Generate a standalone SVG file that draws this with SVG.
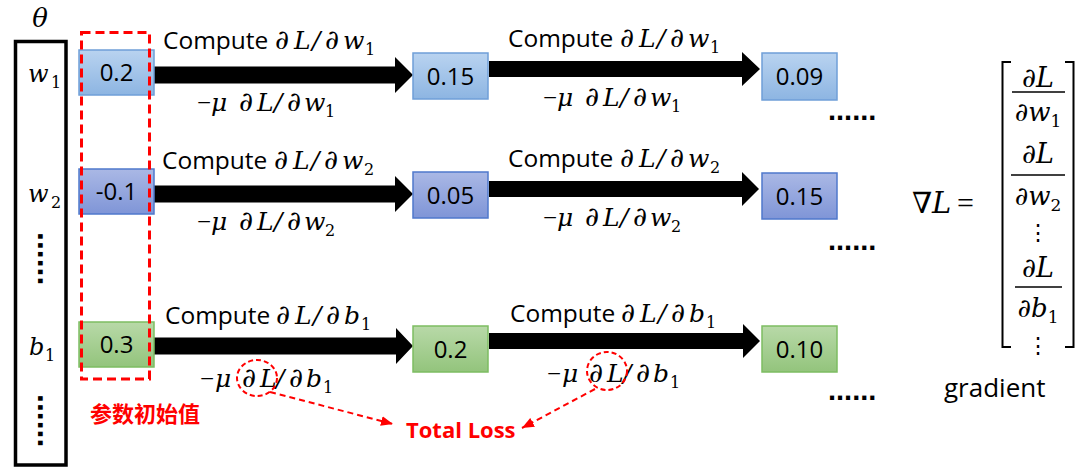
<svg xmlns="http://www.w3.org/2000/svg" width="1080" height="473" viewBox="0 0 1080 473">
<defs>
<linearGradient id="gW1" x1="0" y1="0" x2="0" y2="1"><stop offset="0" stop-color="#b9d3f0"/><stop offset="1" stop-color="#8db5e2"/></linearGradient>
<linearGradient id="gW2" x1="0" y1="0" x2="0" y2="1"><stop offset="0" stop-color="#aab8e5"/><stop offset="1" stop-color="#7f95d7"/></linearGradient>
<linearGradient id="gB1" x1="0" y1="0" x2="0" y2="1"><stop offset="0" stop-color="#b8d9a8"/><stop offset="1" stop-color="#93c47c"/></linearGradient>
<marker id="rh" viewBox="0 0 12 10" refX="12" refY="5" markerWidth="12" markerHeight="10" markerUnits="userSpaceOnUse" orient="auto"><path d="M0,0 L12,5 L0,10 Z" fill="#ff0000"/></marker>
</defs>
<style>
.w1 rect{fill:url(#gW1);stroke:#6f9fd8;stroke-width:1.5}
.w2 rect{fill:url(#gW2);stroke:#4f78cc;stroke-width:1.5}
.b1 rect{fill:url(#gB1);stroke:#7dbd62;stroke-width:1.5}
.node text{font-family:"Open Sans",sans-serif;font-size:24px;text-anchor:middle;fill:#000}
.lbl{font-family:"Open Sans",sans-serif;font-size:24.5px;fill:#000}
.m{font-family:"DejaVu Serif",serif;font-style:italic;font-size:25px}
.d{font-family:"DejaVu Serif",serif;font-style:italic;font-size:27px}
.s{font-family:"DejaVu Serif",serif;font-style:normal;font-size:16px}
.mn{font-family:"Liberation Serif",serif;font-style:normal;font-size:25px}
.arr{fill:#000}
.red{fill:#ff0000}
.rd{fill:none;stroke:#ff0000;stroke-width:2;stroke-dasharray:5 3}
.dots{font-family:"Liberation Sans",sans-serif;font-weight:bold;font-size:29px;fill:#000}
.vdots{font-family:"Liberation Sans",sans-serif;font-weight:bold;font-size:32px;fill:#000}
</style>
<rect width="1080" height="473" fill="#ffffff"/>

<g id="theta">
<text x="40" y="27" class="m" style="font-size:26px" text-anchor="middle">θ</text>
<rect x="15.5" y="41.5" width="50.5" height="423.5" fill="none" stroke="#000" stroke-width="3.5"/>
<text class="m" style="font-size:24px" y="82"><tspan x="28">w</tspan><tspan class="s" x="51" dy="6">1</tspan></text>
<text class="m" style="font-size:24px" y="202"><tspan x="28">w</tspan><tspan class="s" x="51" dy="6">2</tspan></text>
<text class="m" style="font-size:24px" y="355"><tspan x="29">b</tspan><tspan class="s" x="45" dy="6">1</tspan></text>
<text class="vdots" transform="translate(38,232) rotate(90)">......</text>
<text class="vdots" transform="translate(38,394) rotate(90)">......</text>
</g>

<g id="connectors">
<polygon class="arr" points="154,66.5 395,66.5 395,57 413,75 395,93 395,83.5 154,83.5"/>
<polygon class="arr" points="489,61 742,61 742,52 760,69 742,86 742,77 489,77"/>
<polygon class="arr" points="154,185.5 395,185.5 395,176 413,194 395,212 395,202.5 154,202.5"/>
<polygon class="arr" points="489,181 742,181 742,172 759,189 742,206 742,197 489,197"/>
<polygon class="arr" points="154,337.5 396,337.5 396,328 413,346 396,364 396,354.5 154,354.5"/>
<polygon class="arr" points="489,333 743,333 743,324 760,341 743,358 743,349 489,349"/>
<line class="rd" x1="270" y1="392" x2="393" y2="424" marker-end="url(#rh)" style="stroke-dasharray:6 4"/>
<line class="rd" x1="595" y1="389" x2="522" y2="428" marker-end="url(#rh)" style="stroke-dasharray:6 4"/>
</g>

<g id="labels-upper">
<text class="lbl" transform="translate(163,49)"><tspan x="0">Compute</tspan><tspan class="d" x="112">∂</tspan><tspan class="m" x="131">L</tspan><tspan class="m" x="149">/</tspan><tspan class="d" x="162">∂</tspan><tspan class="m" x="180">w</tspan><tspan class="s" x="202" dy="6">1</tspan></text>
<text class="lbl" transform="translate(508,47)"><tspan x="0">Compute</tspan><tspan class="d" x="112">∂</tspan><tspan class="m" x="131">L</tspan><tspan class="m" x="149">/</tspan><tspan class="d" x="162">∂</tspan><tspan class="m" x="180">w</tspan><tspan class="s" x="202" dy="6">1</tspan></text>
<text class="lbl" transform="translate(162,169)"><tspan x="0">Compute</tspan><tspan class="d" x="112">∂</tspan><tspan class="m" x="131">L</tspan><tspan class="m" x="149">/</tspan><tspan class="d" x="162">∂</tspan><tspan class="m" x="180">w</tspan><tspan class="s" x="202" dy="6">2</tspan></text>
<text class="lbl" transform="translate(508,167)"><tspan x="0">Compute</tspan><tspan class="d" x="112">∂</tspan><tspan class="m" x="131">L</tspan><tspan class="m" x="149">/</tspan><tspan class="d" x="162">∂</tspan><tspan class="m" x="180">w</tspan><tspan class="s" x="202" dy="6">2</tspan></text>
<text class="lbl" transform="translate(165,324)"><tspan x="0">Compute</tspan><tspan class="d" x="111">∂</tspan><tspan class="m" x="130">L</tspan><tspan class="m" x="148">/</tspan><tspan class="d" x="161">∂</tspan><tspan class="m" x="179">b</tspan><tspan class="s" x="196" dy="6">1</tspan></text>
<text class="lbl" transform="translate(510,322)"><tspan x="0">Compute</tspan><tspan class="d" x="111">∂</tspan><tspan class="m" x="130">L</tspan><tspan class="m" x="148">/</tspan><tspan class="d" x="161">∂</tspan><tspan class="m" x="179">b</tspan><tspan class="s" x="196" dy="6">1</tspan></text>
</g>

<g id="labels-lower">
<text class="lbl" transform="translate(197,111)"><tspan class="mn" x="0">−</tspan><tspan class="m" x="14">μ</tspan><tspan class="d" x="42">∂</tspan><tspan class="m" x="60">L</tspan><tspan class="m" x="77">/</tspan><tspan class="d" x="90">∂</tspan><tspan class="m" x="107">w</tspan><tspan class="s" x="128" dy="6">1</tspan></text>
<text class="lbl" transform="translate(543,106)"><tspan class="mn" x="0">−</tspan><tspan class="m" x="14">μ</tspan><tspan class="d" x="42">∂</tspan><tspan class="m" x="60">L</tspan><tspan class="m" x="77">/</tspan><tspan class="d" x="90">∂</tspan><tspan class="m" x="107">w</tspan><tspan class="s" x="128" dy="6">1</tspan></text>
<text class="lbl" transform="translate(197,230)"><tspan class="mn" x="0">−</tspan><tspan class="m" x="14">μ</tspan><tspan class="d" x="42">∂</tspan><tspan class="m" x="60">L</tspan><tspan class="m" x="77">/</tspan><tspan class="d" x="90">∂</tspan><tspan class="m" x="107">w</tspan><tspan class="s" x="128" dy="6">2</tspan></text>
<text class="lbl" transform="translate(543,226)"><tspan class="mn" x="0">−</tspan><tspan class="m" x="14">μ</tspan><tspan class="d" x="42">∂</tspan><tspan class="m" x="60">L</tspan><tspan class="m" x="77">/</tspan><tspan class="d" x="90">∂</tspan><tspan class="m" x="107">w</tspan><tspan class="s" x="128" dy="6">2</tspan></text>
<text class="lbl" transform="translate(200,387)"><tspan class="mn" x="0">−</tspan><tspan class="m" x="15">μ</tspan><tspan class="d" x="42">∂</tspan><tspan class="m" x="60">L</tspan><tspan class="m" x="76">/</tspan><tspan class="d" x="89">∂</tspan><tspan class="m" x="106">b</tspan><tspan class="s" x="123" dy="6">1</tspan></text>
<text class="lbl" transform="translate(547,382)"><tspan class="mn" x="0">−</tspan><tspan class="m" x="15">μ</tspan><tspan class="d" x="42">∂</tspan><tspan class="m" x="60">L</tspan><tspan class="m" x="76">/</tspan><tspan class="d" x="89">∂</tspan><tspan class="m" x="106">b</tspan><tspan class="s" x="123" dy="6">1</tspan></text>
</g>

<g id="n-w1-0" class="node w1"><rect x="79" y="50" width="75" height="45"/><text x="116.5" y="81">0.2</text></g>
<g id="n-w2-0" class="node w2"><rect x="79" y="169" width="75" height="45"/><text x="116.5" y="200">-0.1</text></g>
<g id="n-b1-0" class="node b1"><rect x="79" y="322" width="75" height="45"/><text x="116.5" y="353">0.3</text></g>
<g id="n-w1-1" class="node w1"><rect x="413" y="53" width="75" height="46"/><text x="450.5" y="84.5">0.15</text></g>
<g id="n-w2-1" class="node w2"><rect x="413" y="172" width="75" height="46"/><text x="450.5" y="203.5">0.05</text></g>
<g id="n-b1-1" class="node b1"><rect x="413" y="326" width="75" height="46"/><text x="450.5" y="357.5">0.2</text></g>
<g id="n-w1-2" class="node w1"><rect x="762" y="53" width="75" height="47"/><text x="799.5" y="85">0.09</text></g>
<g id="n-w2-2" class="node w2"><rect x="762" y="173" width="75" height="46"/><text x="799.5" y="204.5">0.15</text></g>
<g id="n-b1-2" class="node b1"><rect x="762" y="326" width="75" height="46"/><text x="799.5" y="357.5">0.10</text></g>

<g id="init">
<rect x="81.5" y="32.5" width="68" height="346.5" fill="none" stroke="#ff0000" stroke-width="3" stroke-dasharray="9 5"/>
<text x="90" y="422" class="red" style="font-family:'Noto Sans CJK SC',sans-serif;font-weight:bold;font-size:22px">参数初始值</text>
</g>

<g id="more">
<text class="dots" x="828" y="120">......</text>
<text class="dots" x="828" y="250">......</text>
<text class="dots" x="828" y="400">......</text>
</g>

<g id="total-loss">
<ellipse class="rd" cx="257" cy="378" rx="20" ry="18"/>
<ellipse class="rd" cx="607" cy="371" rx="20" ry="19"/>
<text x="406" y="438" class="red" style="font-family:'Open Sans',sans-serif;font-weight:bold;font-size:22px">Total Loss</text>
</g>

<g id="gradient">
<text y="213" class="m" style="font-size:29px"><tspan x="912">∇</tspan><tspan x="932">L</tspan><tspan x="957" class="mn" style="font-size:30px">=</tspan></text>
<path d="M1011,62 H1002.5 V347 H1011 M1065,62 H1073.5 V347 H1065" fill="none" stroke="#000" stroke-width="2"/>
<text class="m" style="font-size:27px" x="1038" y="87" text-anchor="middle">∂L</text>
<line x1="1012" y1="92" x2="1065" y2="92" stroke="#000" stroke-width="1.6"/>
<text class="m" style="font-size:26px" x="1038" y="121" text-anchor="middle">∂w<tspan class="s" style="font-size:17px" dy="6">1</tspan></text>
<text class="m" style="font-size:27px" x="1038" y="163" text-anchor="middle">∂L</text>
<line x1="1011" y1="175" x2="1065" y2="175" stroke="#000" stroke-width="1.6"/>
<text class="m" style="font-size:26px" x="1038" y="205" text-anchor="middle">∂w<tspan class="s" style="font-size:17px" dy="6">2</tspan></text>
<text class="s" style="font-size:22px" x="1038" y="240" text-anchor="middle">⋮</text>
<text class="m" style="font-size:27px" x="1038" y="277" text-anchor="middle">∂L</text>
<line x1="1015" y1="287" x2="1062" y2="287" stroke="#000" stroke-width="1.6"/>
<text class="m" style="font-size:26px" x="1038" y="317" text-anchor="middle">∂b<tspan class="s" style="font-size:17px" dy="6">1</tspan></text>
<text class="s" style="font-size:22px" x="1038" y="353" text-anchor="middle">⋮</text>
<text x="944" y="397" style="font-family:'Open Sans',sans-serif;font-size:26px">gradient</text>
</g>
</svg>
